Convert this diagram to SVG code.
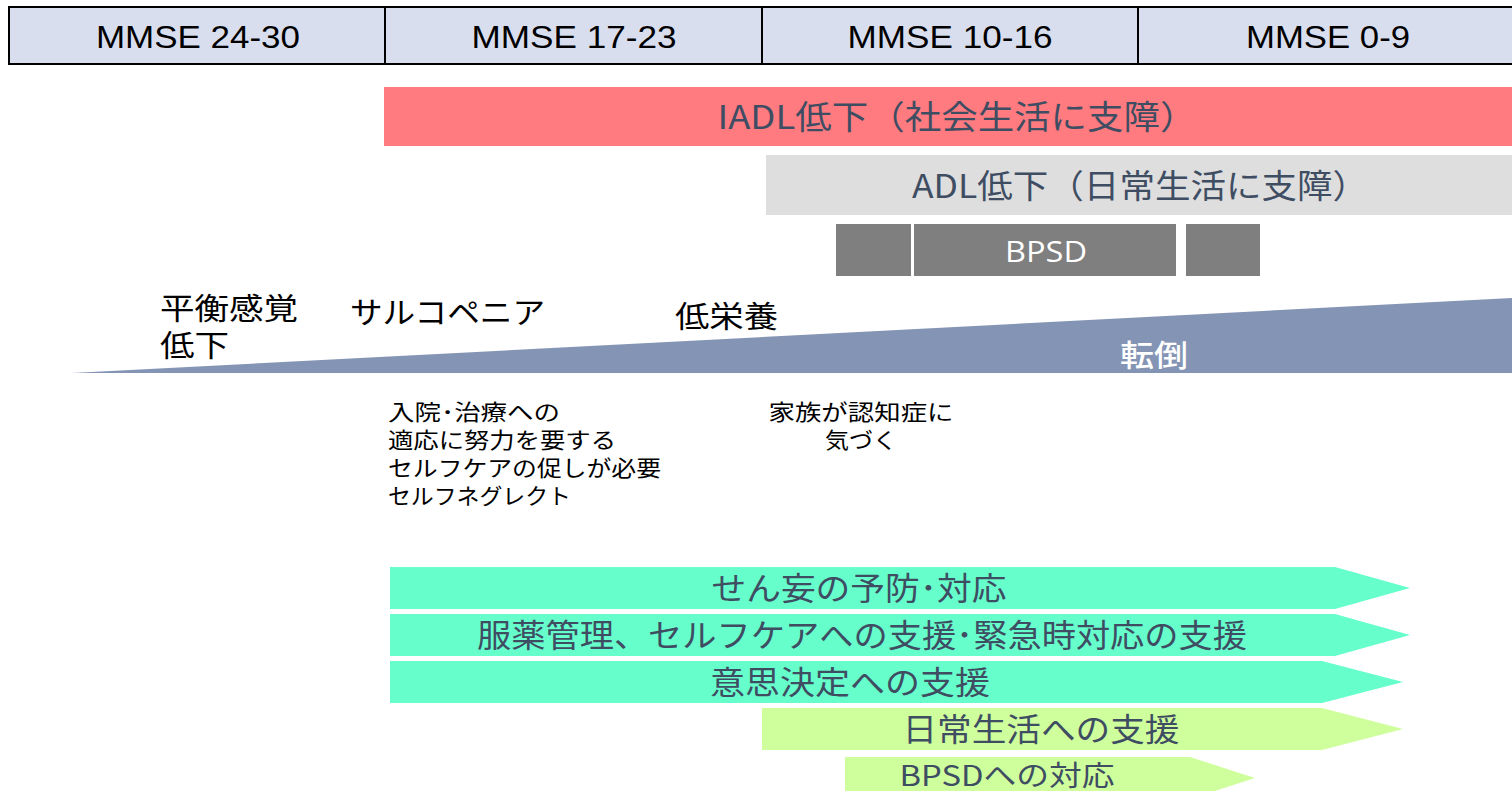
<svg xmlns="http://www.w3.org/2000/svg" width="1512" height="791" viewBox="0 0 1512 791">
<style>
.hdr{fill:#D9DEEF;stroke:#000;stroke-width:2}
.ht{font-family:"Liberation Sans","Noto Sans CJK JP",sans-serif;font-size:32px;fill:#000;text-anchor:middle}
.bt{font-family:"Noto Sans CJK JP",sans-serif;font-size:33px;fill:#3F4D63;text-anchor:middle}
.wt{font-family:"Noto Sans CJK JP",sans-serif;font-size:30px;fill:#fff;text-anchor:middle}
.lt{font-family:"Noto Sans CJK JP",sans-serif;font-size:30px;fill:#000}
.st{font-family:"Noto Sans CJK JP",sans-serif;font-size:22px;fill:#000}
.ar1{fill:#66FFCC}
.ar2{fill:#CFFF9C}
.at{font-family:"Noto Sans CJK JP",sans-serif;font-size:32px;fill:#3F4D63;text-anchor:middle}
</style>
<rect width="1512" height="791" fill="#fff"/>
<g id="header">
<rect class="hdr" x="9" y="7" width="376" height="57"/>
<rect class="hdr" x="385" y="7" width="377" height="57"/>
<rect class="hdr" x="762" y="7" width="376" height="57"/>
<rect class="hdr" x="1138" y="7" width="380" height="57"/>
<text class="ht" x="198" y="48" textLength="204" lengthAdjust="spacingAndGlyphs">MMSE 24-30</text>
<text class="ht" x="574" y="48" textLength="205" lengthAdjust="spacingAndGlyphs">MMSE 17-23</text>
<text class="ht" x="950" y="48" textLength="205" lengthAdjust="spacingAndGlyphs">MMSE 10-16</text>
<text class="ht" x="1328" y="48" textLength="164" lengthAdjust="spacingAndGlyphs">MMSE 0-9</text>
</g>
<g id="iadl">
<rect x="384" y="87" width="1128" height="59" fill="#FF7B80"/>
<text class="bt" x="957" y="129" textLength="479" lengthAdjust="spacingAndGlyphs">IADL低下（社会生活に支障）</text>
</g>
<g id="adl">
<rect x="766" y="155" width="746" height="60" fill="#DEDEDE"/>
<text class="bt" x="1140" y="198" textLength="456" lengthAdjust="spacingAndGlyphs">ADL低下（日常生活に支障）</text>
</g>
<g id="bpsd">
<rect x="836" y="224" width="75" height="52" fill="#7F7F7F"/>
<rect x="914" y="224" width="262" height="52" fill="#7F7F7F"/>
<rect x="1186" y="224" width="74" height="52" fill="#7F7F7F"/>
<text class="wt" x="1046" y="262" textLength="82" lengthAdjust="spacingAndGlyphs" style="font-family:'Open Sans','Liberation Sans',sans-serif">BPSD</text>
</g>
<g id="fall">
<polygon points="72,373 1512,298 1512,373" fill="#8494B4"/>
<text class="wt" x="1154" y="366" textLength="68" lengthAdjust="spacingAndGlyphs" style="font-weight:500">転倒</text>
</g>
<g id="labels">
<text class="lt"><tspan x="160" y="319" textLength="138" lengthAdjust="spacingAndGlyphs">平衡感覚</tspan><tspan x="160" y="356" textLength="69" lengthAdjust="spacingAndGlyphs">低下</tspan></text>
<text class="lt" x="350" y="323" textLength="195" lengthAdjust="spacingAndGlyphs">サルコペニア</text>
<text class="lt" x="675" y="327" textLength="103" lengthAdjust="spacingAndGlyphs">低栄養</text>
</g>
<g id="notes">
<text class="st"><tspan x="388" y="420" textLength="172" lengthAdjust="spacingAndGlyphs">入院･治療への</tspan><tspan x="388" y="448" textLength="228" lengthAdjust="spacingAndGlyphs">適応に努力を要する</tspan><tspan x="388" y="476" textLength="273" lengthAdjust="spacingAndGlyphs">セルフケアの促しが必要</tspan><tspan x="388" y="504" textLength="183" lengthAdjust="spacingAndGlyphs">セルフネグレクト</tspan></text>
<text class="st" text-anchor="middle"><tspan x="861" y="420" textLength="185" lengthAdjust="spacingAndGlyphs">家族が認知症に</tspan><tspan x="861" y="448" textLength="72" lengthAdjust="spacingAndGlyphs">気づく</tspan></text>
</g>
<g id="arrows">
<polygon class="ar1" points="390,567 1335,567 1410,588 1335,609 390,609"/>
<text class="at" x="859" y="600" textLength="295" lengthAdjust="spacingAndGlyphs">せん妄の予防･対応</text>
<polygon class="ar1" points="390,614 1335,614 1410,635 1335,656 390,656"/>
<text class="at" x="862" y="647" textLength="770" lengthAdjust="spacingAndGlyphs">服薬管理、セルフケアへの支援･緊急時対応の支援</text>
<polygon class="ar1" points="390,661 1322,661 1403,682 1322,703 390,703"/>
<text class="at" x="850" y="694" textLength="280" lengthAdjust="spacingAndGlyphs">意思決定への支援</text>
<polygon class="ar2" points="762,708 1322,708 1403,729 1322,750 762,750"/>
<text class="at" x="1041" y="741" textLength="277" lengthAdjust="spacingAndGlyphs">日常生活への支援</text>
<polygon class="ar2" points="845,757 1190,757 1255,778 1190,799 845,799"/>
<text class="at" x="1007" y="786" textLength="215" lengthAdjust="spacingAndGlyphs" style="font-size:28px">BPSDへの対応</text>
</g>
</svg>
